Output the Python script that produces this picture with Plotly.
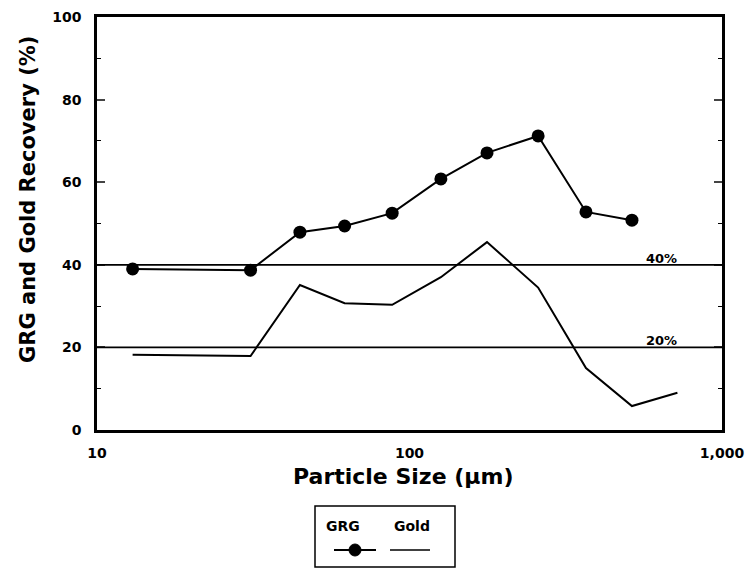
import plotly.graph_objects as go
import math

# Data
grg_size = [13, 31, 44.6, 62, 88, 126, 177, 258, 367, 515]
grg_recovery = [39.0, 38.7, 47.9, 49.4, 52.5, 60.8, 67.1, 71.2, 52.8, 50.8]
gold_size = [13, 31, 44.6, 62, 88, 126, 177, 258, 367, 515, 720]
gold_recovery = [18.2, 17.9, 35.1, 30.7, 30.3, 37.0, 45.5, 34.5, 15.0, 5.8, 9.0]
ref_levels = [40, 20]
ref_labels = ["40%", "20%"]
y_ticks = [0, 20, 40, 60, 80, 100]
x_ticks = [10, 100, 1000]
x_tick_labels = ["10", "100", "1,000"]

W, H = 747, 569
ml, mr, mt, mb = 97, 25, 17, 139
pw, ph = W - ml - mr, H - mt - mb

FONT = "DejaVu Sans, Arial, sans-serif"

fig = go.Figure()
fig.add_trace(go.Scatter(x=grg_size, y=grg_recovery, mode="lines+markers",
                         line=dict(color="black", width=2),
                         marker=dict(color="black", size=13), name="GRG",
                         showlegend=False))
fig.add_trace(go.Scatter(x=gold_size, y=gold_recovery, mode="lines",
                         line=dict(color="black", width=2), name="Gold",
                         showlegend=False))

shapes = []
annotations = []
for lvl, lab in zip(ref_levels, ref_labels):
    shapes.append(dict(type="line", xref="paper", yref="y", x0=0, x1=1, y0=lvl, y1=lvl,
                       line=dict(color="black", width=1.8)))
    annotations.append(dict(x=math.log10(640), y=lvl, xref="x", yref="y", text="<b>" + lab + "</b>",
                            showarrow=False, yanchor="bottom", yshift=-3,
                            font=dict(family=FONT, size=13, color="black")))

def px_x(p):
    return (p - ml) / pw

def px_y(p):
    return (H - mb - p) / ph

def label(x, y, text, size, angle=0):
    return dict(x=px_x(x), y=px_y(y), xref="paper", yref="paper", text=text,
                showarrow=False, xanchor="center", yanchor="middle", textangle=angle,
                font=dict(family=FONT, size=size, color="black"))

# axis titles
annotations.append(label(403, 476, "<b>Particle Size (µm)</b>", 22))
annotations.append(label(28, 200, "<b>GRG and Gold Recovery (%)</b>", 21, -90))

# legend box
shapes.append(dict(type="rect", xref="paper", yref="paper",
                   x0=px_x(315), x1=px_x(455), y0=px_y(506), y1=px_y(567),
                   line=dict(color="black", width=1.5), fillcolor="white"))
annotations.append(label(343, 526, "<b>GRG</b>", 14))
annotations.append(label(412, 526, "<b>Gold</b>", 14))
shapes.append(dict(type="line", xref="paper", yref="paper", x0=px_x(334), x1=px_x(376),
                   y0=px_y(550), y1=px_y(550), line=dict(color="black", width=2)))
shapes.append(dict(type="circle", xref="paper", yref="paper", x0=px_x(349), x1=px_x(361),
                   y0=px_y(544), y1=px_y(556), line=dict(color="black", width=1), fillcolor="black"))
shapes.append(dict(type="line", xref="paper", yref="paper", x0=px_x(390), x1=px_x(430),
                   y0=px_y(550), y1=px_y(550), line=dict(color="black", width=1.5)))

fig.update_layout(
    width=W, height=H,
    margin=dict(l=ml, r=mr, t=mt, b=mb, autoexpand=False),
    plot_bgcolor="white", paper_bgcolor="white",
    shapes=shapes, annotations=annotations,
    font=dict(family=FONT, color="black"),
    xaxis=dict(type="log", range=[1, 3], tickvals=x_ticks,
               ticktext=["<b>" + t + "</b>" for t in x_tick_labels],
               automargin=False,
               showgrid=False, zeroline=False, showline=True, linecolor="black", linewidth=2.5,
               mirror=True, ticks="", ticklabelstandoff=8,
               tickfont=dict(family=FONT, size=14)),
    yaxis=dict(range=[0, 100], tickvals=y_ticks,
               ticktext=["<b>" + str(t) + "</b>" for t in y_ticks],
               automargin=False,
               showgrid=False, zeroline=False,
               showline=True, linecolor="black", linewidth=2.5, mirror="ticks",
               ticks="inside", ticklen=8, tickwidth=1.5, ticklabelstandoff=10,
               minor=dict(dtick=10, ticks="inside", ticklen=4, tickwidth=1, tickcolor="black"),
               tickfont=dict(family=FONT, size=14)),
)

fig.write_html("out.html")
